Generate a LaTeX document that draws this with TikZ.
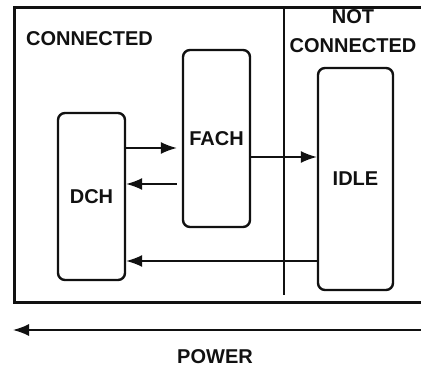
\documentclass[tikz,border=0pt]{standalone}
\usepackage{fontspec}
\setmainfont{Liberation Sans}
\usetikzlibrary{arrows.meta,positioning,calc}
\definecolor{ink}{HTML}{111111}
\tikzset{
  state/.style={rectangle,rounded corners=7pt,draw=ink,line width=2.4pt,
    inner sep=0pt,font=\fontsize{20}{20}\selectfont\bfseries,text=ink},
  zone/.style={font=\fontsize{20}{29}\selectfont\bfseries,text=ink,inner sep=0pt},
  tedge/.style={-{Latex[length=16pt,width=12pt]},line width=1.5pt,color=ink},
  frame/.style={line width=3pt,color=ink},
  divider/.style={line width=1.1pt,color=ink},
}
\begin{document}
\begin{tikzpicture}[x=1pt,y=-1pt]
  \useasboundingbox (0,0) rectangle (421,367);

  % outer frame, open at the right edge
  \coordinate (frTR) at (423,7);
  \coordinate (frTL) at (14,7);
  \coordinate (frBL) at (14,302);
  \coordinate (frBR) at (423,302);
  \draw[frame] (frTR) -- (frTL) -- (frBL) -- (frBR);

  % divider between the two zones
  \coordinate (divT) at (284,7);
  \coordinate (divB) at (284,295);
  \draw[divider] (divT) -- (divB);

  \node[zone,anchor=west] (conn)    at (26,38.5) {CONNECTED};
  \node[zone,align=center] (notconn) at (353,31.5) {NOT\\CONNECTED};

  \node[state,minimum width=67pt,minimum height=167pt] (dch)  at (91.5,196.5) {DCH};
  \node[state,minimum width=67pt,minimum height=177pt] (fach) at (216.5,138.5) {FACH};
  \node[state,minimum width=75pt,minimum height=222pt] (idle) at (355.5,179) {IDLE};

  \draw[tedge,shorten >=5pt] (dch.east |- 0,148) -- (fach.west |- 0,148);
  \draw[tedge,shorten <=5pt] (fach.west |- 0,184) -- (dch.east |- 0,184);
  \draw[tedge] (fach.east |- 0,157) -- (idle.west |- 0,157);
  \draw[tedge] (idle.west |- 0,261) -- (dch.east |- 0,261);

  % power scale
  \coordinate (pwrR) at (421,330);
  \coordinate (pwrL) at (13,330);
  \draw[tedge] (pwrR) -- (pwrL);
  \node[zone] (power) at (215,357) {POWER};
\end{tikzpicture}
\end{document}
